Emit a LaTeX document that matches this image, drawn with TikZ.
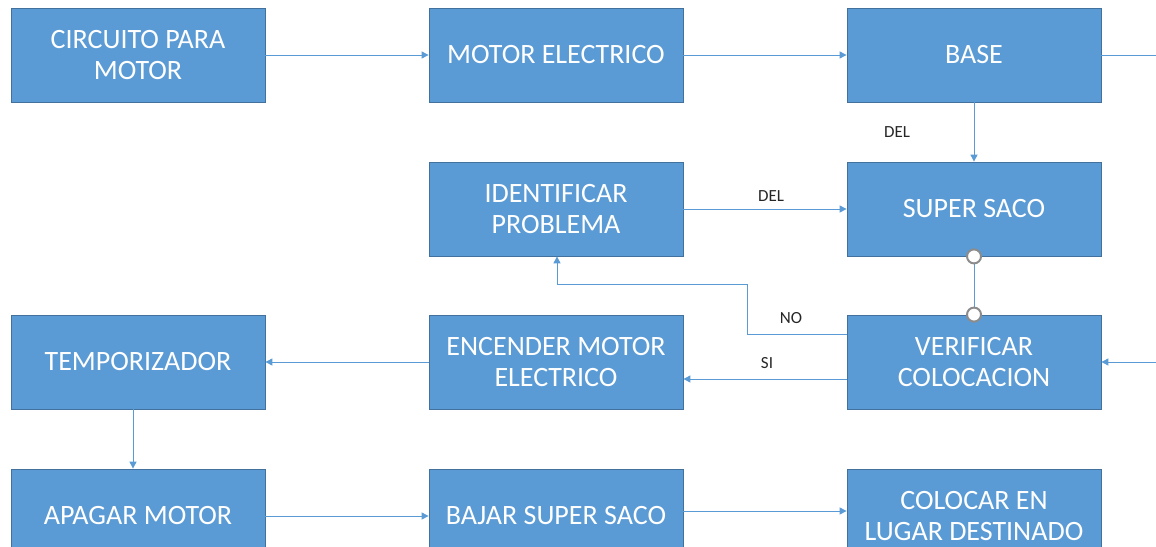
\documentclass[tikz,border=0pt]{standalone}
\usepackage{fontspec}
\setmainfont{Carlito}
\usetikzlibrary{arrows.meta}
\definecolor{boxfill}{HTML}{5B9BD5}
\definecolor{boxline}{HTML}{41719C}
\definecolor{conn}{HTML}{5B9BD5}
\definecolor{dotline}{HTML}{8C8C8C}
\tikzset{
  blk/.style={draw=boxline, line width=0.8pt, fill=boxfill, text=white, minimum width=254pt, minimum height=94pt, inner sep=0pt, align=center, font=\fontsize{28}{31}\selectfont},
  conn/.style={draw=conn, line width=1pt},
  arr/.style={conn, -{Triangle[length=7pt,width=7pt]}},
  lbl/.style={text=black!85, font=\fontsize{17}{19}\selectfont, inner sep=0pt},
  dot/.style={circle, draw=dotline, line width=2pt, fill=white, minimum size=14pt, inner sep=0pt}
}
\begin{document}
\begin{tikzpicture}[x=1pt,y=-1pt]
\useasboundingbox (0,0) rectangle (1156,546);
\clip (0,0) rectangle (1156,546);
\node[blk] (A) at (138,55) {CIRCUITO PARA\\MOTOR};
\node[blk] (B) at (556,55) {MOTOR ELECTRICO};
\node[blk] (C) at (974,55) {BASE};
\node[blk] (D) at (556,209) {IDENTIFICAR\\PROBLEMA};
\node[blk] (E) at (974,209) {SUPER SACO};
\node[blk] (F) at (138,362) {TEMPORIZADOR};
\node[blk] (G) at (556,362) {ENCENDER MOTOR\\ELECTRICO};
\node[blk] (H) at (974,362) {VERIFICAR\\COLOCACION};
\node[blk] (I) at (138,516) {APAGAR MOTOR};
\node[blk] (J) at (556,516) {BAJAR SUPER SACO};
\node[blk] (K) at (974,516) {COLOCAR EN\\LUGAR DESTINADO};
\coordinate (Cout) at (1160,55);
\coordinate (Hin) at (1160,362);
\coordinate (n1) at (747,334);
\coordinate (n2) at (747,284);
\coordinate (n3) at (557,284);
\draw[arr] (A) -- (B);
\draw[arr] (B) -- (C);
\draw[conn] (C.east) -- (Cout);
\draw[arr] (C) -- (E);
\draw[arr] (D) -- (E);
\draw[arr] (Hin) -- (H.east);
\draw[arr] (G) -- (F);
\draw[arr] (I) -- (J);
\draw[arr] (J.east |- 0,511) -- (K.west |- 0,511);
\draw[arr] (H.west |- 0,379) -- (G.east |- 0,379);
\draw[arr] (H.west |- n1) -- (n1) -- (n2) -- (n3) -- (n3 |- D.south);
\draw[arr] (F.south -| 133,0) -- (I.north -| 133,0);
\draw[conn] (E.south) -- (H.north);
\node[dot] (e1) at (E.south) {};
\node[dot] (h1) at (H.north) {};
\node[lbl] (l1) at (897,132) {DEL};
\node[lbl] (l2) at (771,196) {DEL};
\node[lbl] (l3) at (791,318) {NO};
\node[lbl] (l4) at (767,363) {SI};
\end{tikzpicture}
\end{document}
